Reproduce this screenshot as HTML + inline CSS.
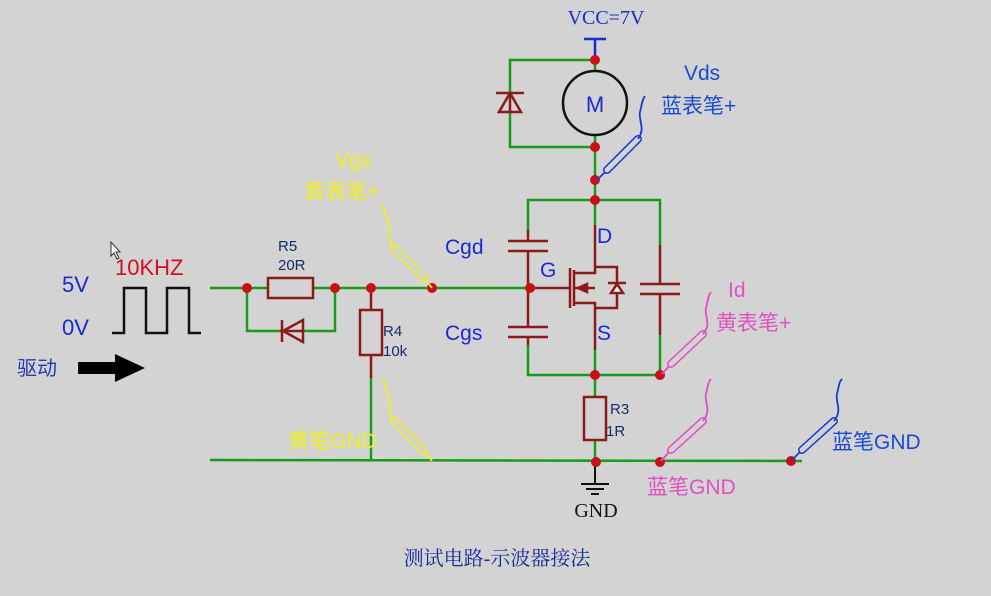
<!DOCTYPE html>
<html><head><meta charset="utf-8"><style>
html,body{margin:0;padding:0;background:#d3d3d3;}
svg{display:block}
text{font-family:"Liberation Sans","Noto Sans CJK SC",sans-serif;}
text.serif{font-family:"Liberation Serif","Noto Serif CJK SC",serif;}
</style></head><body>
<svg width="991" height="596" viewBox="0 0 991 596" xmlns="http://www.w3.org/2000/svg">
<rect width="991" height="596" fill="#d3d3d3"/>
<g stroke="#1a9a1a" stroke-width="2.5" fill="none">
<line x1="210" y1="288" x2="268" y2="288"/><line x1="313" y1="288" x2="530" y2="288"/>
<polyline points="247,288 247,331 280,331"/><polyline points="303,331 335,331 335,288"/>
<line x1="371" y1="378" x2="371" y2="461"/>
<line x1="210" y1="460" x2="802" y2="461"/>
<polyline points="510,93 510,60 595,60"/><polyline points="510,112 510,147 595,147"/>
<line x1="595" y1="60" x2="595" y2="71"/><line x1="595" y1="135" x2="595" y2="200"/>
<polyline points="528,230 528,200 660,200 660,245"/>
<polyline points="528,345 528,375 660,375 660,335"/>
<line x1="595" y1="200" x2="595" y2="225"/><line x1="595" y1="350" x2="595" y2="375"/>
<line x1="595" y1="375" x2="595" y2="397"/><line x1="595" y1="440" x2="595" y2="462"/>
</g>
<g stroke="#8b1a1a" stroke-width="2.5" fill="none">
<rect x="268" y="278" width="45" height="20"/>
<line x1="280" y1="331" x2="303" y2="331"/>
<polygon points="283,331 303,320 303,342"/><line x1="282" y1="320" x2="282" y2="342"/>
<line x1="371" y1="288" x2="371" y2="310"/><rect x="360" y="310" width="22" height="45"/><line x1="371" y1="355" x2="371" y2="378"/>
<line x1="510" y1="93" x2="510" y2="112"/>
<polygon points="510,93 499,112 521,112"/><line x1="496" y1="93" x2="524" y2="93"/>
<line x1="528" y1="230" x2="528" y2="241"/><line x1="508" y1="241" x2="548" y2="241"/><line x1="508" y1="251" x2="548" y2="251"/><line x1="528" y1="251" x2="528" y2="327"/>
<line x1="508" y1="327" x2="548" y2="327"/><line x1="508" y1="337" x2="548" y2="337"/><line x1="528" y1="337" x2="528" y2="345"/>
<line x1="530" y1="288" x2="570" y2="288"/>
<line x1="570" y1="268" x2="570" y2="308"/>
<line x1="574" y1="270" x2="574" y2="306"/>
<polyline points="574,273 595,273 595,225"/><polyline points="574,303 595,303 595,350"/>
<line x1="574" y1="288" x2="595" y2="288"/><polygon points="578,288 587,284 587,292"/>
<polyline points="595,267 617,267 617,308 595,308"/>
<line x1="608" y1="283" x2="626" y2="283"/><polygon points="617,284 611,293 623,293" fill="#fff"/>
<line x1="660" y1="245" x2="660" y2="284"/><line x1="640" y1="284" x2="680" y2="284"/><line x1="640" y1="294" x2="680" y2="294"/><line x1="660" y1="294" x2="660" y2="335"/>
<rect x="584" y="397" width="22" height="43"/>
</g>
<polygon points="578,288 587,284 587,292" fill="#8b1a1a"/>
<circle cx="595" cy="103" r="32" fill="none" stroke="#111" stroke-width="2.5"/>
<text x="595" y="112" font-size="22" fill="#1a2ad0" text-anchor="middle">M</text>
<g stroke="#1a2ad0" stroke-width="2.5"><line x1="584" y1="39" x2="606" y2="39"/><line x1="595" y1="39" x2="595" y2="58"/></g>
<text class="serif" x="606" y="24" font-size="20" fill="#1a2ad0" text-anchor="middle">VCC=7V</text>
<g stroke="#111" stroke-width="2"><line x1="595" y1="462" x2="595" y2="483"/><line x1="581" y1="484" x2="609" y2="484"/><line x1="586" y1="489" x2="604" y2="489"/><line x1="591" y1="494" x2="599" y2="494"/></g>
<text class="serif" x="596" y="517" font-size="20" fill="#111" text-anchor="middle">GND</text>
<g fill="#c8101a">
<circle cx="247" cy="288" r="5"/><circle cx="335" cy="288" r="5"/><circle cx="371" cy="288" r="5"/><circle cx="432" cy="288" r="5"/><circle cx="530" cy="288" r="5"/>
<circle cx="595" cy="60" r="5"/><circle cx="595" cy="147" r="5"/><circle cx="595" cy="180" r="5"/><circle cx="595" cy="200" r="5"/>
<circle cx="595" cy="375" r="5"/><circle cx="660" cy="375" r="5"/>
<circle cx="596" cy="462" r="5"/><circle cx="660" cy="462" r="5"/><circle cx="791" cy="461" r="5"/>
</g>
<polyline points="112,333 124,333 124,288 146,288 146,333 167,333 167,288 189,288 189,333 201,333" fill="none" stroke="#111" stroke-width="2.5"/>
<polygon points="78,362 115,362 115,354 145,368 115,382 115,374 78,374" fill="#000"/>
<g fill="none" stroke-width="1.8">
<g stroke="#1a3ad0"><path d="M597,180 L607,170"/><line x1="607" y1="170" x2="638" y2="139" stroke-width="8" stroke-linecap="round"/><line x1="607" y1="170" x2="638" y2="139" stroke-width="5" stroke="#d3d3d3" stroke-linecap="round"/><path d="M638,139 C646,128 638,120 640,112 C642,104 642,100 645,96"/></g>
<g stroke="#f0f020"><path d="M432,288 L424,278"/><line x1="424" y1="278" x2="394" y2="248" stroke-width="8" stroke-linecap="round"/><line x1="424" y1="278" x2="394" y2="248" stroke-width="5" stroke="#d3d3d3" stroke-linecap="round"/><path d="M394,248 C386,238 392,230 388,222 C384,214 386,210 382,205"/></g>
<g stroke="#f0f020"><path d="M432,461 L424,451"/><line x1="424" y1="451" x2="394" y2="421" stroke-width="8" stroke-linecap="round"/><line x1="424" y1="451" x2="394" y2="421" stroke-width="5" stroke="#d3d3d3" stroke-linecap="round"/><path d="M394,421 C386,411 392,402 388,394 C384,386 386,382 382,378"/></g>
<g stroke="#e050c0"><path d="M662,374 L671,364"/><line x1="671" y1="364" x2="703" y2="334" stroke-width="8" stroke-linecap="round"/><line x1="671" y1="364" x2="703" y2="334" stroke-width="5" stroke="#d3d3d3" stroke-linecap="round"/><path d="M703,334 C712,324 704,316 706,308 C708,300 708,296 711,292"/></g>
<g stroke="#e050c0"><path d="M661,461 L671,450"/><line x1="671" y1="450" x2="703" y2="421" stroke-width="8" stroke-linecap="round"/><line x1="671" y1="450" x2="703" y2="421" stroke-width="5" stroke="#d3d3d3" stroke-linecap="round"/><path d="M703,421 C712,410 704,402 706,394 C708,386 708,382 711,379"/></g>
<g stroke="#1a3ad0"><path d="M792,460 L802,450"/><line x1="802" y1="450" x2="834" y2="421" stroke-width="8" stroke-linecap="round"/><line x1="802" y1="450" x2="834" y2="421" stroke-width="5" stroke="#d3d3d3" stroke-linecap="round"/><path d="M834,421 C843,410 835,402 837,394 C839,386 839,382 842,379"/></g>
</g>
<g font-size="21">
<text x="62" y="292" fill="#1a2ad0" font-size="22">5V</text>
<text x="62" y="335" fill="#1a2ad0" font-size="22">0V</text>
<text x="115" y="275" fill="#d01020" font-size="22">10KHZ</text>
<text x="17" y="375" fill="#2a3ab0" font-size="20">驱动</text>
<text x="445" y="254" fill="#1a2ad0">Cgd</text>
<text x="445" y="340" fill="#1a2ad0">Cgs</text>
<text x="540" y="277" fill="#1a2ad0">G</text>
<text x="597" y="243" fill="#1a2ad0">D</text>
<text x="597" y="340" fill="#1a2ad0">S</text>
<text x="684" y="80" fill="#1a4ad0">Vds</text>
<text x="661" y="113" fill="#1a4ad0">蓝表笔+</text>
<text x="335" y="167" fill="#f0f020">Vgs</text>
<text x="304" y="199" fill="#f0f020">黄表笔+</text>
<text x="728" y="297" fill="#e050c0">Id</text>
<text x="716" y="330" fill="#e050c0">黄表笔+</text>
<text x="288" y="448" fill="#f0f020">黄笔GND</text>
<text x="647" y="494" fill="#e050c0">蓝笔GND</text>
<text x="832" y="449" fill="#1a4ad0">蓝笔GND</text>
</g>
<g font-size="15" fill="#1a2a6a">
<text x="278" y="251">R5</text><text x="278" y="270">20R</text>
<text x="383" y="336">R4</text><text x="383" y="356">10k</text>
<text x="610" y="414">R3</text><text x="606" y="436">1R</text>
</g>
<text class="serif" x="497" y="565" font-size="20" fill="#1a2a9a" text-anchor="middle">测试电路-示波器接法</text>
<polygon points="111,242 111,256 114,253 117,259 119,258 116,252 120,252" fill="#fff" stroke="#333" stroke-width="1"/>
</svg>
</body></html>
